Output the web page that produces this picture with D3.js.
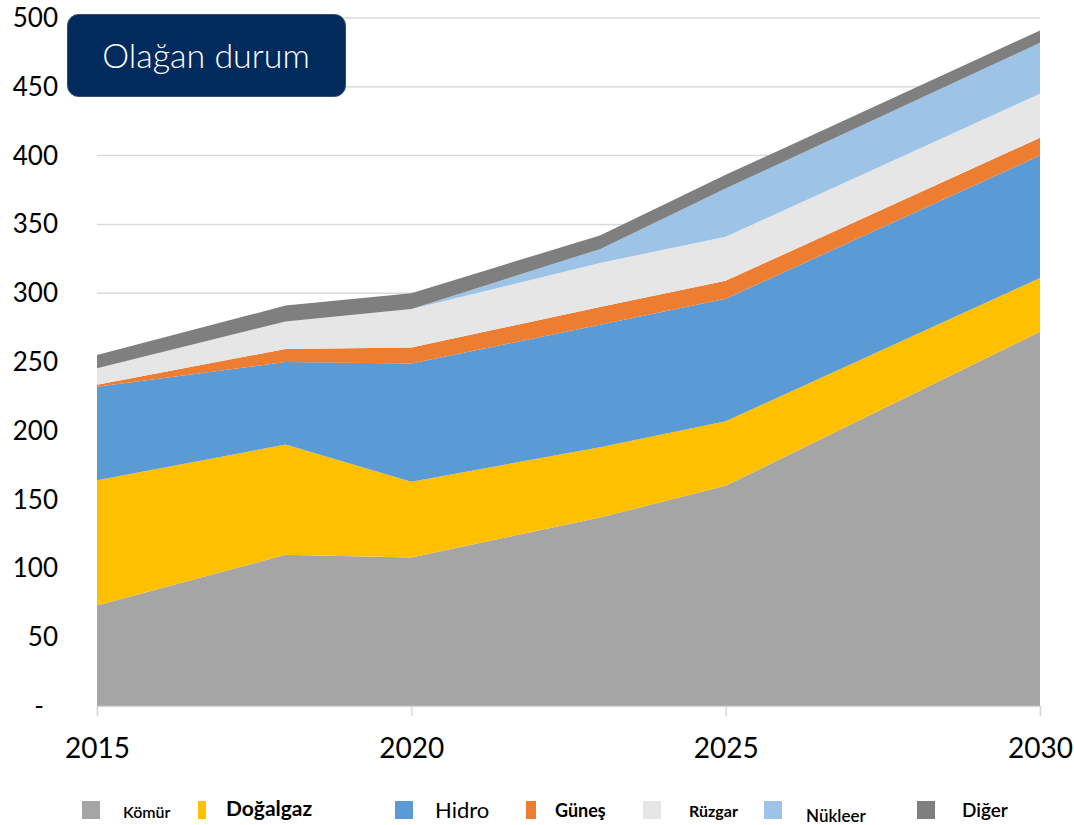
<!DOCTYPE html>
<html>
<head>
<meta charset="utf-8">
<script src="https://cdn.jsdelivr.net/npm/d3@7"></script>
<style>
  body { margin: 0; background: #fff; }
  svg { display: block; font-family: Lato, "Open Sans", sans-serif; }
</style>
</head>
<body>
<div class="chart"></div>
<script>
// values
var years    = [2015, 2018, 2020, 2023, 2025, 2030];
var komur    = [73, 110, 108, 137, 160, 272];
var dogalgaz = [91, 80, 55, 51, 47, 39];
var hidro    = [68, 60, 86, 89, 89, 89];
var gunes    = [1.5, 9.5, 11.5, 13, 13, 13];
var ruzgar   = [12, 20, 28, 32, 32, 32];
var nukleer  = [0, 0, 0, 10, 35, 37];
var diger    = [9.5, 11.5, 11.5, 10, 10, 9];

var seriesNames = ["Kömür", "Doğalgaz", "Hidro", "Güneş", "Rüzgar", "Nükleer", "Diğer"];
var xTicks = [2015, 2020, 2025, 2030];
var yTicks = [0, 50, 100, 150, 200, 250, 300, 350, 400, 450, 500];
var title = "Olağan durum";

var seriesValues = [komur, dogalgaz, hidro, gunes, ruzgar, nukleer, diger];
var colors = ["#a5a5a5", "#ffc000", "#5b9bd5", "#ed7d31", "#e6e6e6", "#9dc3e6", "#7f7f7f"];

var width = 1074, height = 825;
var margin = {top: 18, right: 34, bottom: 119, left: 97};

var table = years.map(function(y, i) {
  var row = {year: y};
  seriesNames.forEach(function(n, j) { row[n] = seriesValues[j][i]; });
  return row;
});

var x = d3.scaleLinear()
    .domain([2015, 2030])
    .range([margin.left, width - margin.right]);

var y = d3.scaleLinear()
    .domain([0, 500])
    .range([height - margin.bottom, margin.top]);

var stack = d3.stack().keys(seriesNames);
var layers = stack(table);

var area = d3.area()
    .x(function(d) { return x(d.data.year); })
    .y0(function(d) { return y(d[0]); })
    .y1(function(d) { return y(d[1]); });

var svg = d3.select(".chart").append("svg")
    .attr("width", width)
    .attr("height", height);

// gridlines
svg.append("g")
  .selectAll("line")
  .data(yTicks.filter(function(t) { return t > 0; }))
  .enter().append("line")
    .attr("x1", x(2015))
    .attr("x2", x(2030))
    .attr("y1", function(d) { return y(d); })
    .attr("y2", function(d) { return y(d); })
    .attr("stroke", "#d9d9d9")
    .attr("stroke-width", 1.5);

svg.append("g")
  .selectAll("path")
  .data(layers)
  .enter().append("path")
    .attr("d", area)
    .attr("fill", function(d, i) { return colors[i]; });

// y axis labels
svg.append("g")
  .selectAll("text")
  .data(yTicks)
  .enter().append("text")
    .attr("x", function(d) { return d === 0 ? 44 : 58; })
    .attr("y", function(d) { return y(d) + 9; })
    .attr("text-anchor", "end")
    .attr("font-size", 26)
    .attr("fill", "#000")
    .text(function(d) { return d === 0 ? "-" : d; });

// x axis
var xAxis = d3.axisBottom(x)
    .tickValues(xTicks)
    .tickFormat(d3.format("d"))
    .tickSize(10)
    .tickPadding(22);

var gx = svg.append("g")
    .attr("transform", "translate(0," + y(0) + ")")
    .call(xAxis);
gx.select(".domain").attr("stroke", "#d9d9d9").attr("stroke-width", 1.5);
gx.selectAll(".tick line").attr("stroke", "#d9d9d9").attr("stroke-width", 1.5);
gx.selectAll(".tick text")
    .attr("font-size", 28)
    .attr("font-family", "Lato, sans-serif")
    .attr("fill", "#000");

// title box
svg.append("rect")
    .attr("x", 67.5)
    .attr("y", 14.5)
    .attr("width", 278)
    .attr("height", 82)
    .attr("rx", 11)
    .attr("fill", "#002b5c")
    .attr("stroke", "#2f4f75")
    .attr("stroke-width", 1);

svg.append("text")
    .attr("x", 206)
    .attr("y", 68)
    .attr("text-anchor", "middle")
    .attr("font-size", 34)
    .attr("font-weight", 300)
    .attr("fill", "#fff")
    .text(title);

// legend (the sizes differ item by item in the original)
var legendLayout = [
  {sx: 82,  sw: 18, tx: 123, ty: 818, fs: 16, fw: 600},
  {sx: 198, sw: 8,  tx: 226, ty: 816, fs: 21, fw: 700},
  {sx: 395, sw: 18, tx: 435, ty: 818, fs: 22, fw: 400},
  {sx: 526, sw: 10, tx: 555, ty: 817, fs: 18, fw: 700},
  {sx: 643, sw: 18, tx: 689, ty: 817, fs: 16, fw: 700},
  {sx: 764, sw: 18, tx: 806, ty: 822, fs: 17, fw: 600},
  {sx: 917, sw: 18, tx: 962, ty: 817, fs: 19, fw: 600}
];

var legend = svg.append("g")
  .selectAll("g")
  .data(seriesNames)
  .enter().append("g");

legend.append("rect")
    .attr("x", function(d, i) { return legendLayout[i].sx; })
    .attr("y", 801)
    .attr("width", function(d, i) { return legendLayout[i].sw; })
    .attr("height", 18)
    .attr("fill", function(d, i) { return colors[i]; });

legend.append("text")
    .attr("x", function(d, i) { return legendLayout[i].tx; })
    .attr("y", function(d, i) { return legendLayout[i].ty; })
    .attr("font-size", function(d, i) { return legendLayout[i].fs; })
    .attr("font-weight", function(d, i) { return legendLayout[i].fw; })
    .attr("fill", "#000")
    .text(function(d) { return d; });
</script>
</body>
</html>
